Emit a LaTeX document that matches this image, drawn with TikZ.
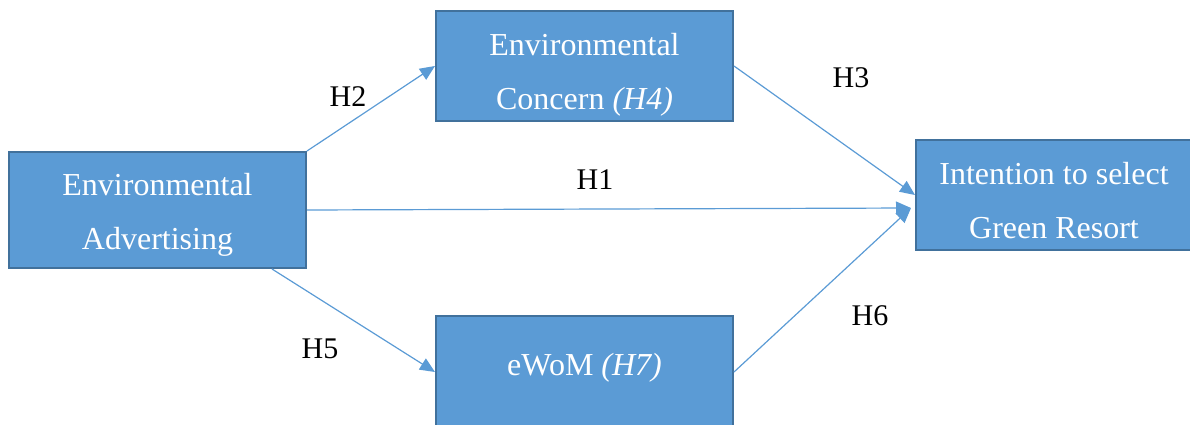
\documentclass[tikz,border=0pt]{standalone}
\usepackage{fontspec}
\setmainfont{Liberation Serif}
\usetikzlibrary{arrows.meta}
\definecolor{boxfill}{HTML}{5B9BD5}
\definecolor{boxline}{HTML}{41719C}
\definecolor{arrowc}{HTML}{5B9BD5}
\newcommand{\boxtext}[2][0pt]{\raisebox{#1}[0pt][0pt]{\begin{tabular}{@{}c@{}}#2\end{tabular}}}
\begin{document}
\begin{tikzpicture}[x=1pt,y=-1pt,
  box/.style={draw=boxline, line width=2pt, fill=boxfill, text=white,
    align=center, inner sep=0pt,
    font=\fontsize{32}{54}\selectfont},
  conn/.style={draw=arrowc, line width=1.2pt,
    -{Triangle[length=15pt,width=13pt]}},
  hlab/.style={font=\fontsize{30}{36}\selectfont, text=black}]
\useasboundingbox (0,0) rectangle (1190,425);
\node[box, minimum width=297pt, minimum height=116pt] (ea) at (157.5,210) {\boxtext[-8pt]{Environmental\\Advertising}};
\node[box, minimum width=297pt, minimum height=110pt] (ec) at (584.5,66) {\boxtext[-11.5pt]{Environmental\\Concern \textit{(H4)}}};
\node[box, minimum width=297pt, minimum height=112pt] (ew) at (584.5,372) {\boxtext[1pt]{eWoM \textit{(H7)}}};
\node[box, minimum width=276pt, minimum height=110pt] (in) at (1054,195) {\boxtext[-11.5pt]{Intention to select\\Green Resort}};
\coordinate (hit) at ([xshift=-4pt,yshift=-13pt]in.west);
\coordinate (h5s) at ([xshift=-35pt]ea.south east);
\draw[conn] (ea.north east) -- (ec.west);
\draw[conn] (ec.east) -- (in.west);
\draw[conn] (ea.east) -- (hit);
\draw[conn] (h5s) -- (ew.west);
\draw[conn] (ew.east) -- (hit);
\node[hlab] (l2) at (348,97) {H2};
\node[hlab] (l3) at (851,78) {H3};
\node[hlab] (l1) at (595,180) {H1};
\node[hlab] (l5) at (320,349) {H5};
\node[hlab] (l6) at (870,316) {H6};
\end{tikzpicture}
\end{document}
